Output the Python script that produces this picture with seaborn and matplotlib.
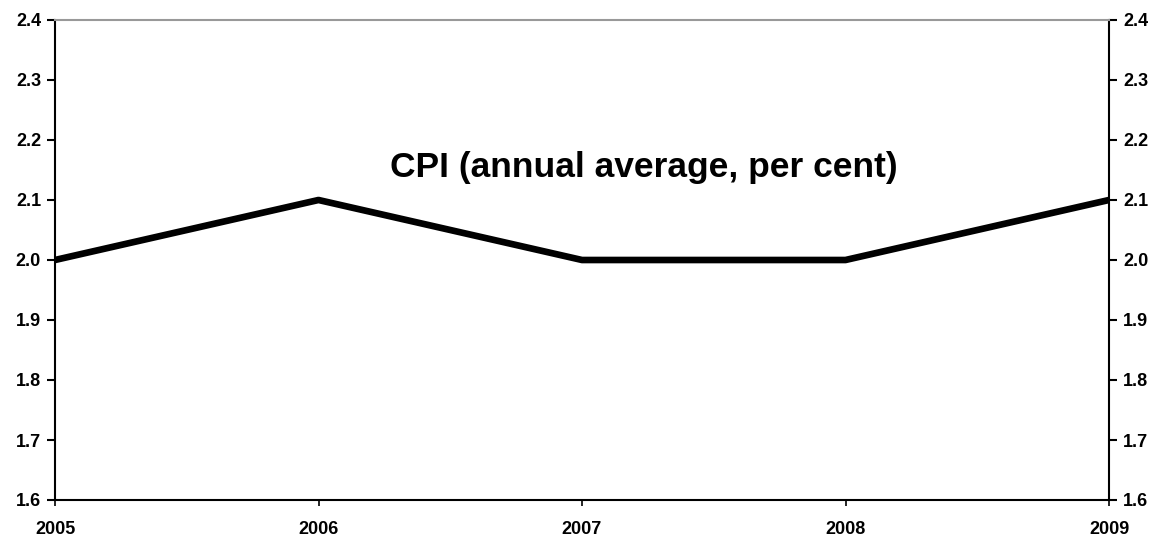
import numpy as np
import matplotlib.pyplot as plt
import pandas as pd
import seaborn as sns

# CPI data
years = [2005, 2006, 2007, 2008, 2009]
cpi = [2.0, 2.1, 2.0, 2.0, 2.1]
y_ticks = [1.6, 1.7, 1.8, 1.9, 2.0, 2.1, 2.2, 2.3, 2.4]

df = pd.DataFrame({'year': years, 'cpi': cpi})

sns.set_style("white")
plt.rcParams['font.family'] = ['Liberation Sans', 'DejaVu Sans']
plt.rcParams['text.color'] = 'black'
plt.rcParams['xtick.color'] = 'black'
plt.rcParams['ytick.color'] = 'black'

fig = plt.figure(figsize=(11.63, 5.41), dpi=100)
ax = fig.add_axes([55 / 1163, 41 / 541, 1054 / 1163, 480 / 541])

sns.lineplot(data=df, x='year', y='cpi', color='black', linewidth=4.8, ax=ax)

ax.set_xlim(2005, 2009)
ax.set_ylim(1.6, 2.4)
ax.set_xticks(years)
ax.set_xticklabels([str(y) for y in years], fontsize=13, fontweight='bold')
ax.set_yticks(y_ticks)
ax.set_yticklabels([f'{v:.1f}' for v in y_ticks], fontsize=13, fontweight='bold')
ax.set_xlabel('')
ax.set_ylabel('')

# right-hand axis mirrors the left one
ax.tick_params(axis='y', which='both', left=True, right=True, labelleft=True,
               labelright=True, direction='out', length=6, width=1.5, pad=4)
ax.tick_params(axis='x', bottom=True, direction='out', length=4, width=1.2, pad=11)

for side in ['left', 'right', 'bottom']:
    ax.spines[side].set_color('black')
    ax.spines[side].set_linewidth(1.5)
ax.spines['top'].set_color('#999999')
ax.spines['top'].set_linewidth(1.5)

ax.text(0.559, 0.692, 'CPI (annual average, per cent)', transform=ax.transAxes,
        ha='center', va='center', fontsize=25.5, fontweight='bold', color='black')

plt.savefig('out.png', dpi=100)
